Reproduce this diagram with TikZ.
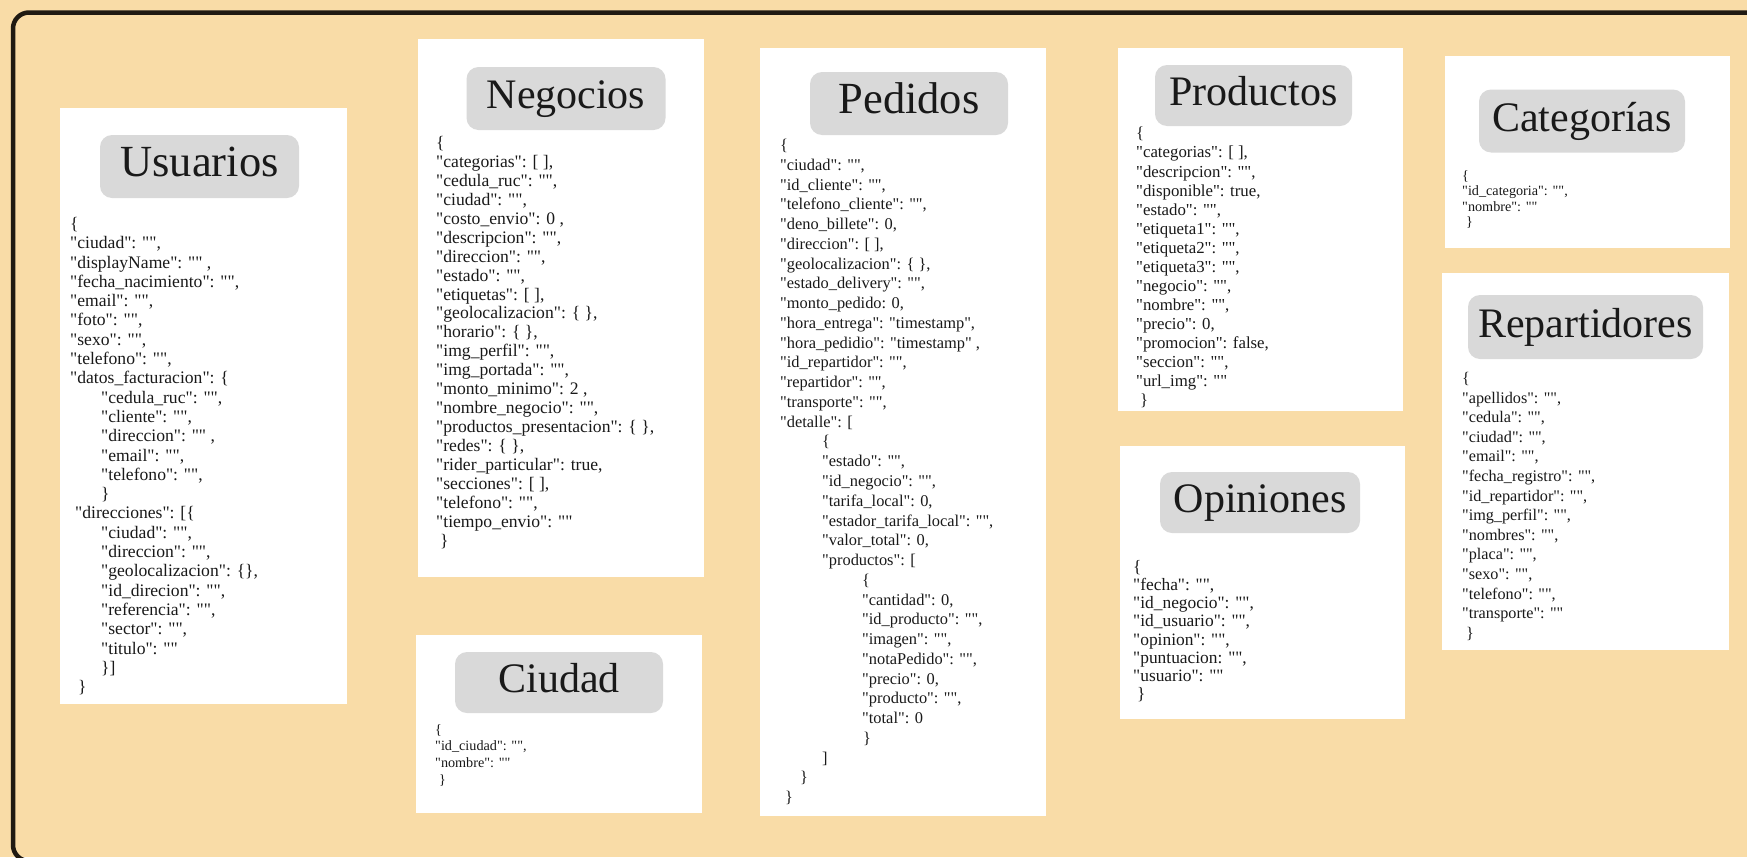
\documentclass[tikz,border=0pt]{standalone}
\usepackage{fontspec}
\setmainfont{Liberation Serif}[Ligatures=TeXOff]
\definecolor{sand}{RGB}{249,220,167}
\definecolor{framecol}{RGB}{32,26,18}
\definecolor{headgray}{RGB}{217,217,217}
\definecolor{ink}{RGB}{25,25,25}
\tikzset{
  card/.style={fill=white, draw=none},
  titlebox/.style={fill=headgray, draw=none, rounded corners=12pt, inner sep=0pt,
    text=ink, font=\fontsize{42}{44}\selectfont, text height=29pt, text depth=9pt},
  bigtitle/.style={font=\fontsize{44.5}{46}\selectfont},
  bodytext/.style={anchor=north west, inner sep=0pt, align=left, text=ink},
}
\newcommand{\ind}[1]{\hspace*{#1pt}}
\begin{document}
\begin{tikzpicture}[x=1pt, y=-1pt]
\useasboundingbox (0,0) rectangle (1747,857);
\fill[sand] (0,0) rectangle (1747,857);
\begin{scope}
\clip (0,0) rectangle (1747,857);
\draw[framecol, line width=4.5pt, rounded corners=16pt] (13,12.5) rectangle (1790,861);
\end{scope}

% ---------- Usuarios ----------
\fill[card] (60,108) rectangle (347,704);
\node[titlebox, bigtitle, minimum width=199pt, minimum height=63pt] (tusu) at (199.5,166.5) {Usuarios};
\node[bodytext, font=\fontsize{17.6}{19.3}\selectfont] (busu) at (70,217) {%
\{\\
"ciudad": "",\\
"displayName": "" ,\\
"fecha\_nacimiento": "",\\
"email": "",\\
"foto": "",\\
"sexo": "",\\
"telefono": "",\\
"datos\_facturacion": \{\\
\ind{31}"cedula\_ruc": "",\\
\ind{31}"cliente": "",\\
\ind{31}"direccion": "" ,\\
\ind{31}"email": "",\\
\ind{31}"telefono": "",\\
\ind{31}\}\\
\ind{5}"direcciones": [\{\\
\ind{31}"ciudad": "",\\
\ind{31}"direccion": "",\\
\ind{31}"geolocalizacion": \{\},\\
\ind{31}"id\_direcion": "",\\
\ind{31}"referencia": "",\\
\ind{31}"sector": "",\\
\ind{31}"titulo": ""\\
\ind{31}\}]\\
\ind{8}\}};

% ---------- Negocios ----------
\fill[card] (418,39) rectangle (704,577);
\node[titlebox, minimum width=199pt, minimum height=63pt] (tneg) at (566,98.5) {Negocios};
\node[bodytext, font=\fontsize{17.6}{18.95}\selectfont] (bneg) at (436,136) {%
\{\\
"categorias": [ ],\\
"cedula\_ruc": "",\\
"ciudad": "",\\
"costo\_envio": 0 ,\\
"descripcion": "",\\
"direccion": "",\\
"estado": "",\\
"etiquetas": [ ],\\
"geolocalizacion": \{ \},\\
"horario": \{ \},\\
"img\_perfil": "",\\
"img\_portada": "",\\
"monto\_minimo": 2 ,\\
"nombre\_negocio": "",\\
"productos\_presentacion": \{ \},\\
"redes": \{ \},\\
"rider\_particular": true,\\
"secciones": [ ],\\
"telefono": "",\\
"tiempo\_envio": ""\\
\ind{4}\}};

% ---------- Ciudad ----------
\fill[card] (416,635) rectangle (702,813);
\node[titlebox, minimum width=208pt, minimum height=61pt] (tciu) at (559,682.5) {Ciudad};
\node[bodytext, font=\fontsize{14.2}{16.7}\selectfont] (bciu) at (435,724) {%
\{\\
"id\_ciudad": "",\\
"nombre": ""\\
\ind{4}\}};

% ---------- Pedidos ----------
\fill[card] (760,48) rectangle (1046,816);
\node[titlebox, bigtitle, minimum width=198pt, minimum height=63pt] (tped) at (909,103.5) {Pedidos};
\node[bodytext, font=\fontsize{16.4}{19.76}\selectfont] (bped) at (780,139) {%
\{\\
"ciudad": "",\\
"id\_cliente": "",\\
"telefono\_cliente": "",\\
"deno\_billete": 0,\\
"direccion": [ ],\\
"geolocalizacion": \{ \},\\
"estado\_delivery": "",\\
"monto\_pedido: 0,\\
"hora\_entrega": "timestamp",\\
"hora\_pedidio": "timestamp" ,\\
"id\_repartidor": "",\\
"repartidor": "",\\
"transporte": "",\\
"detalle": [\\
\ind{42}\{\\
\ind{42}"estado": "",\\
\ind{42}"id\_negocio": "",\\
\ind{42}"tarifa\_local": 0,\\
\ind{42}"estador\_tarifa\_local": "",\\
\ind{42}"valor\_total": 0,\\
\ind{42}"productos": [\\
\ind{82}\{\\
\ind{82}"cantidad": 0,\\
\ind{82}"id\_producto": "",\\
\ind{82}"imagen": "",\\
\ind{82}"notaPedido": "",\\
\ind{82}"precio": 0,\\
\ind{82}"producto": "",\\
\ind{82}"total": 0\\
\ind{83}\}\\
\ind{42}]\\
\ind{20}\}\\
\ind{5}\}};

% ---------- Productos ----------
\fill[card] (1118,48) rectangle (1403,411);
\node[titlebox, minimum width=197pt, minimum height=61pt] (tpro) at (1253.5,95.5) {Productos};
\node[bodytext, font=\fontsize{16.8}{19.07}\selectfont] (bpro) at (1136,127) {%
\{\\
"categorias": [ ],\\
"descripcion": "",\\
"disponible": true,\\
"estado": "",\\
"etiqueta1": "",\\
"etiqueta2": "",\\
"etiqueta3": "",\\
"negocio": "",\\
"nombre": "",\\
"precio": 0,\\
"promocion": false,\\
"seccion": "",\\
"url\_img": ""\\
\ind{4}\}};

% ---------- Opiniones ----------
\fill[card] (1120,446) rectangle (1405,719);
\node[titlebox, minimum width=200pt, minimum height=61pt] (topi) at (1260,502.5) {Opiniones};
\node[bodytext, font=\fontsize{17.4}{18.2}\selectfont] (bopi) at (1133,560) {%
\{\\
"fecha": "",\\
"id\_negocio": "",\\
"id\_usuario": "",\\
"opinion": "",\\
"puntuacion: "",\\
"usuario": ""\\
\ind{4}\}};

% ---------- Categorías ----------
\fill[card] (1445,56) rectangle (1730,248);
\node[titlebox, minimum width=206pt, minimum height=63pt] (tcat) at (1582,121) {Categorías};
\node[bodytext, font=\fontsize{14.2}{15.6}\selectfont] (bcat) at (1462,170) {%
\{\\
"id\_categoria": "",\\
"nombre": ""\\
\ind{4}\}};

% ---------- Repartidores ----------
\fill[card] (1442,273) rectangle (1729,650);
\node[titlebox, minimum width=235pt, minimum height=64pt] (trep) at (1585.5,327) {Repartidores};
\node[bodytext, font=\fontsize{16.2}{19.6}\selectfont] (brep) at (1462,372) {%
\{\\
"apellidos": "",\\
"cedula": "",\\
"ciudad": "",\\
"email": "",\\
"fecha\_registro": "",\\
"id\_repartidor": "",\\
"img\_perfil": "",\\
"nombres": "",\\
"placa": "",\\
"sexo": "",\\
"telefono": "",\\
"transporte": ""\\
\ind{4}\}};
\end{tikzpicture}
\end{document}
